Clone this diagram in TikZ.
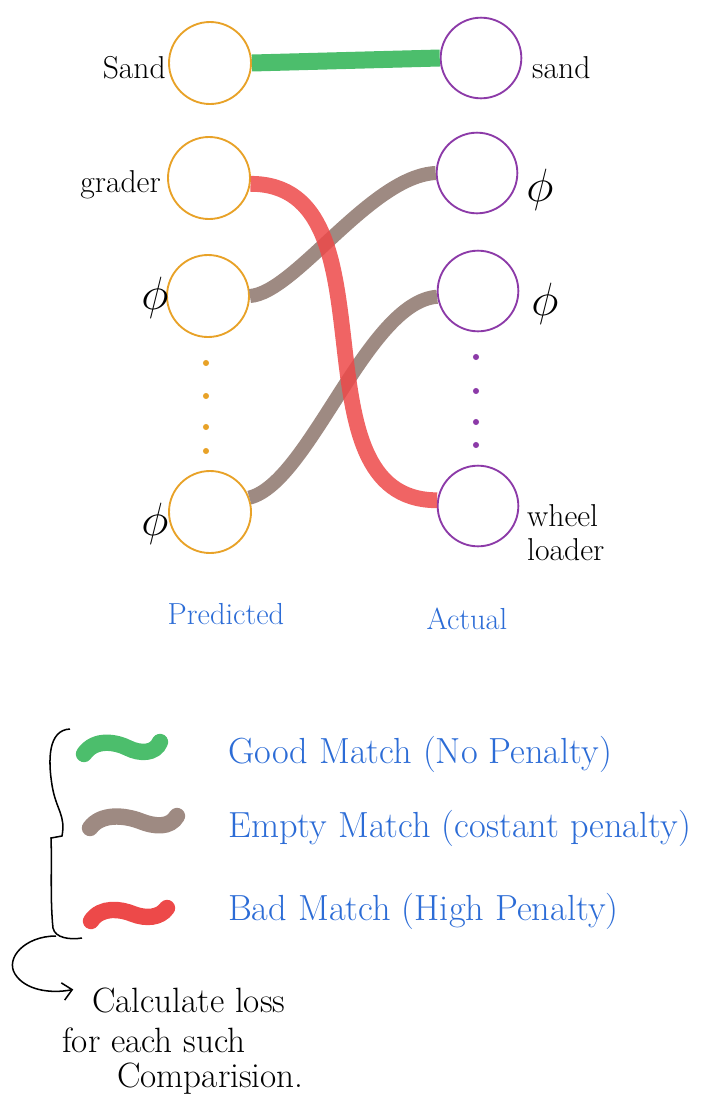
\documentclass[tikz,border=0pt]{standalone}
\usetikzlibrary{arrows.meta}
\definecolor{predorange}{RGB}{232,162,40}
\definecolor{actpurple}{RGB}{140,58,168}
\definecolor{goodgreen}{RGB}{76,190,108}
\definecolor{badred}{RGB}{237,73,73}
\definecolor{emptybrown}{RGB}{158,138,130}
\definecolor{handblue}{RGB}{44,108,214}
\begin{document}
\begin{tikzpicture}[x=0.03cm, y=-0.03cm,
    predc/.style={circle, draw=predorange, line width=1.6pt, minimum size=2.46cm, inner sep=0pt},
    actc/.style={circle, draw=actpurple, line width=1.6pt, minimum size=2.42cm, inner sep=0pt},
    lbl/.style={font=\fontsize{27}{29}\selectfont, inner sep=0pt},
    philbl/.style={font=\fontsize{24}{26}\selectfont, inner sep=0pt, scale=1.6},
    sidelbl/.style={text=handblue, font=\fontsize{26}{28}\selectfont, inner sep=0pt},
    lgdtext/.style={text=handblue, anchor=base west, inner sep=0pt, font=\fontsize{31}{34}\selectfont},
    notetext/.style={anchor=base west, inner sep=0pt, font=\fontsize{30}{34}\selectfont},
    goodlink/.style={draw=goodgreen, line width=14.5pt},
    emptylink/.style={draw=emptybrown, line width=12pt},
    badlink/.style={draw=badred, line width=13.5pt, draw opacity=0.85},
    squig/.style={line width=14pt, line cap=round}]
  \useasboundingbox (0,0) rectangle (707,1117);
  % predicted column
  \node[predc] (p1) at (210,63) {};
  \node[predc] (p2) at (209,178) {};
  \node[predc] (p3) at (208,296) {};
  \node[predc] (p4) at (210,512) {};
  \foreach \yy in {363,396,427,451}
    \fill[predorange] (206,\yy) circle (2.6pt);
  % actual column
  \node[actc] (a1) at (481,58) {};
  \node[actc] (a2) at (477,173) {};
  \node[actc] (a3) at (478,291) {};
  \node[actc] (a4) at (478,506) {};
  \foreach \yy in {357,391,422,445}
    \fill[actpurple] (476,\yy) circle (2.6pt);
  % labels
  \node[lbl, anchor=east] (lp1) at (166,68) {Sand};
  \node[lbl, anchor=east] (lp2) at (161,185) {grader};
  \node[philbl] (lp3) at (155,298) {$\phi$};
  \node[philbl] (lp4) at (155,524) {$\phi$};
  \node[lbl, anchor=west] (la1) at (532,68) {sand};
  \node[philbl] (la2) at (540,190) {$\phi$};
  \node[philbl] (la3) at (545,304) {$\phi$};
  \node[lbl, anchor=west, align=left] (la4) at (527,533) {wheel\\loader};
  \node[sidelbl] (predlbl) at (226,614) {Predicted};
  \node[sidelbl] (actlbl) at (467,619) {Actual};
  % matches
  \draw[goodlink] (p1.east) -- (a1.west);
  \draw[emptylink] (p3.east) .. controls +(45,-3) and +(-65,3) .. (a2.west);
  \draw[emptylink] (p4.20) .. controls +(60,-15) and +(-70,5) .. (a3.188);
  \draw[badlink] (p2.-8) .. controls +(150,0) and +(-150,0) .. (a4.172);
  % legend
  \draw[squig, goodgreen] (84,754) .. controls (95,738) and (116,742) .. (128,748)
    .. controls (140,754) and (155,754) .. (160,742);
  \draw[squig, emptybrown] (90,828) .. controls (101,813) and (124,815) .. (140,821)
    .. controls (155,827) and (170,828) .. (177,816);
  \draw[squig, badred] (91,921) .. controls (101,906) and (121,909) .. (133,914)
    .. controls (146,919) and (160,918) .. (167,908);
  \node[lgdtext] (good) at (228,763) {Good Match (No Penalty)};
  \node[lgdtext] (empty) at (228,837) {Empty Match (costant penalty)};
  \node[lgdtext] (bad) at (228,920) {Bad Match (High Penalty)};
  % brace and note
  \draw[line width=1.3pt] (70,729) .. controls (48,730) and (48,760) .. (52,785)
    .. controls (56,810) and (66,815) .. (62,836) -- (51,838)
    .. controls (52,860) and (50,900) .. (53,928) .. controls (55,938) and (70,940) .. (82,938);
  \coordinate (bbot) at (56,936);
  \node[notetext] (calc) at (92,1012) {Calculate loss};
  \node[notetext] (calc2) at (62,1052) {for each such};
  \node[notetext] (calc3) at (117,1087) {Comparision.};
  \draw[line width=1.3pt, -{Straight Barb[length=8pt,width=15pt]}] (bbot)
    .. controls (25,936) and (5,958) .. (15,974)
    .. controls (25,990) and (50,994) .. ([xshift=-16pt,yshift=9pt]calc.west);
\end{tikzpicture}
\end{document}
